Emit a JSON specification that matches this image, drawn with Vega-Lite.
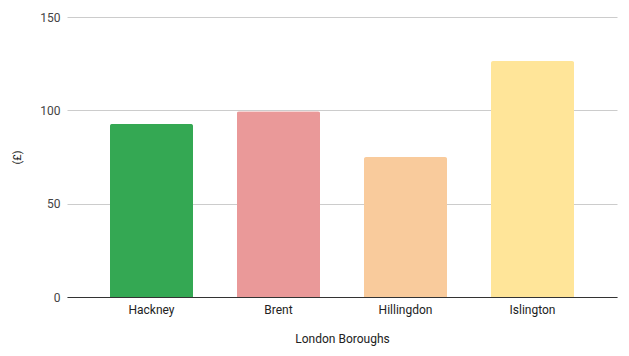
{
  "$schema": "https://vega.github.io/schema/vega-lite/v6.json",
  "autosize": {"type": "none"},
  "width": 550,
  "height": 280,
  "padding": {"left": 67, "top": 17, "right": 12, "bottom": 59},
  "background": "white",
  "config": {"view": {"stroke": null}, "font": "Roboto"},
  "data": {"values": [
    {"borough": "Hackney", "value": 92.7, "color": "#34a853"},
    {"borough": "Brent", "value": 99.5, "color": "#ea9999"},
    {"borough": "Hillingdon", "value": 75, "color": "#f9cb9c"},
    {"borough": "Islington", "value": 126.4, "color": "#ffe599"}
  ]},
  "mark": {"type": "bar", "cornerRadiusTopLeft": 2, "cornerRadiusTopRight": 2},
  "encoding": {
    "x": {
      "field": "borough", "type": "nominal", "sort": null,
      "scale": {"paddingInner": 0.346, "paddingOuter": 0.338},
      "axis": {
        "title": "London Boroughs", "titleFont": "Roboto", "titleFontSize": 12, "titleFontWeight": "normal", "titleColor": "#222", "titlePadding": 18,
        "labelAngle": 0, "labelFontSize": 12, "labelColor": "#222", "labelPadding": 7,
        "ticks": false, "domainColor": "#333", "domainWidth": 1
      }
    },
    "y": {
      "field": "value", "type": "quantitative",
      "scale": {"domain": [0, 150]},
      "axis": {
        "title": "(£)", "titleFontSize": 11, "titleFontWeight": "normal", "titleColor": "#222", "titlePadding": 17,
        "values": [0, 50, 100, 150], "labelFontSize": 12, "labelColor": "#444", "labelPadding": 7,
        "ticks": false, "domain": false, "gridColor": "#cccccc"
      }
    },
    "color": {"field": "color", "type": "nominal", "scale": null}
  }
}
